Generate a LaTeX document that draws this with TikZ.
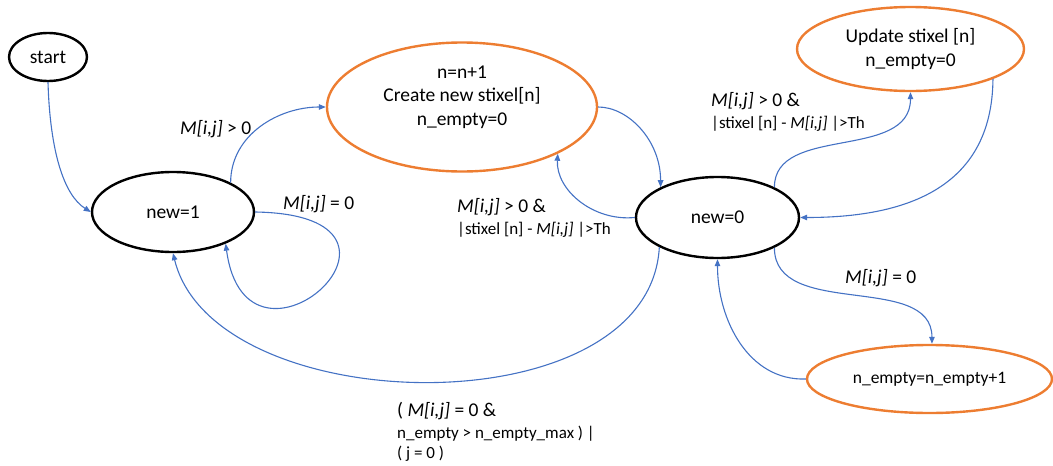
\documentclass[tikz,border=0pt]{standalone}
\usepackage{fontspec}
\setmainfont{Carlito}
\usetikzlibrary{shapes.geometric,arrows.meta}
\definecolor{flowblue}{HTML}{4472C4}
\definecolor{accent}{HTML}{ED7D31}
\newcommand{\bigtext}{\fontsize{19.5}{23.5}\selectfont}
\newcommand{\smalltext}{\fontsize{17}{20}\selectfont}
\newcommand{\Mij}{\textit{M[i,j]}}

\begin{document}
\begin{tikzpicture}[x=1pt,y=-1pt,
  state/.style={ellipse, draw=black, line width=2.4pt, inner sep=0pt, font=\bigtext, align=center},
  action/.style={state, draw=accent},
  flow/.style={draw=flowblue, line width=1.1pt, -{Triangle[length=7pt,width=5.5pt]}},
  cond/.style={anchor=base west, inner sep=0pt, font=\bigtext},
]
\path[use as bounding box] (0,0) rectangle (1053,466);

% states
\node[state, minimum width=78pt, minimum height=48pt] (start) at (48,57) {start};
\node[state, minimum width=162pt, minimum height=80pt] (n1) at (173,212) {new=1};
\node[action, minimum width=270pt, minimum height=129pt] (create) at (462,107) {};
\node[align=center, font=\bigtext, inner sep=0pt] (createtext) at (462,97)
  {n=n+1\\Create new stixel[n]\\n\_empty=0};
\node[state, minimum width=163pt, minimum height=81pt] (n0) at (717.5,217.5) {new=0};
\node[action, minimum width=227pt, minimum height=84pt] (update) at (910.5,49)
  {Update stixel [n]\\n\_empty=0};
\node[action, minimum width=245pt, minimum height=68pt, font=\fontsize{17.5}{21}\selectfont]
  (nempty) at (929.5,379) {n\_empty=n\_empty+1};

% transitions
\draw[flow] (start.south) .. controls +(2,69) and +(-27,-17) .. (n1.west);
\draw[flow] (n1.27) .. controls +(0,-48) and +(-47,0) .. (create.west);
\draw[flow] (n1.east) .. controls +(196,3) and +(21,156) .. (n1.-31);
\draw[flow] (create.east) .. controls +(30,0) and +(0,-47) .. (n0.152);
\draw[flow] (n0.west) .. controls +(-42,4) and +(-2,36) .. (create.-26);
\draw[flow] (n0.28) .. controls +(0,-63) and +(0,69) .. (update.south);
\draw[flow] (update.-20) .. controls +(-1,112) and +(101,0) .. (n0.east);
\draw[flow] (n0.-28) .. controls +(0,72) and +(0,-72) .. (nempty.86);
\draw[flow] (nempty.west) .. controls +(-57,2) and +(0,61) .. (n0.south);
\draw[flow] (n0.207) .. controls +(-10,183) and +(41,168) .. (n1.south);

% transition conditions
\node[cond] (cA) at (180,134) {\Mij{} > 0};
\node[cond] (cB) at (283,209) {\Mij{} = 0};
\node[cond] (cC) at (457,212) {\vtop{\lineskiplimit=-100pt\baselineskip=22.5pt
  \hbox{\Mij{} > 0 \&}\hbox{\smalltext |stixel [n] - \Mij{} |>Th}}};
\node[cond] (cD) at (711,106) {\vtop{\lineskiplimit=-100pt\baselineskip=22.5pt
  \hbox{\Mij{} > 0 \&}\hbox{\smalltext |stixel [n] - \Mij{} |>Th}}};
\node[cond] (cE) at (845,283) {\Mij{} = 0};
\node[cond] (cF) at (397,416) {\vtop{\lineskiplimit=-100pt\baselineskip=22.5pt
  \hbox{( \Mij{} = 0 \&}\hbox{\smalltext n\_empty > n\_empty\_max ) |}
  \baselineskip=20pt\hbox{\smalltext ( j = 0 )}}};
\end{tikzpicture}
\end{document}
